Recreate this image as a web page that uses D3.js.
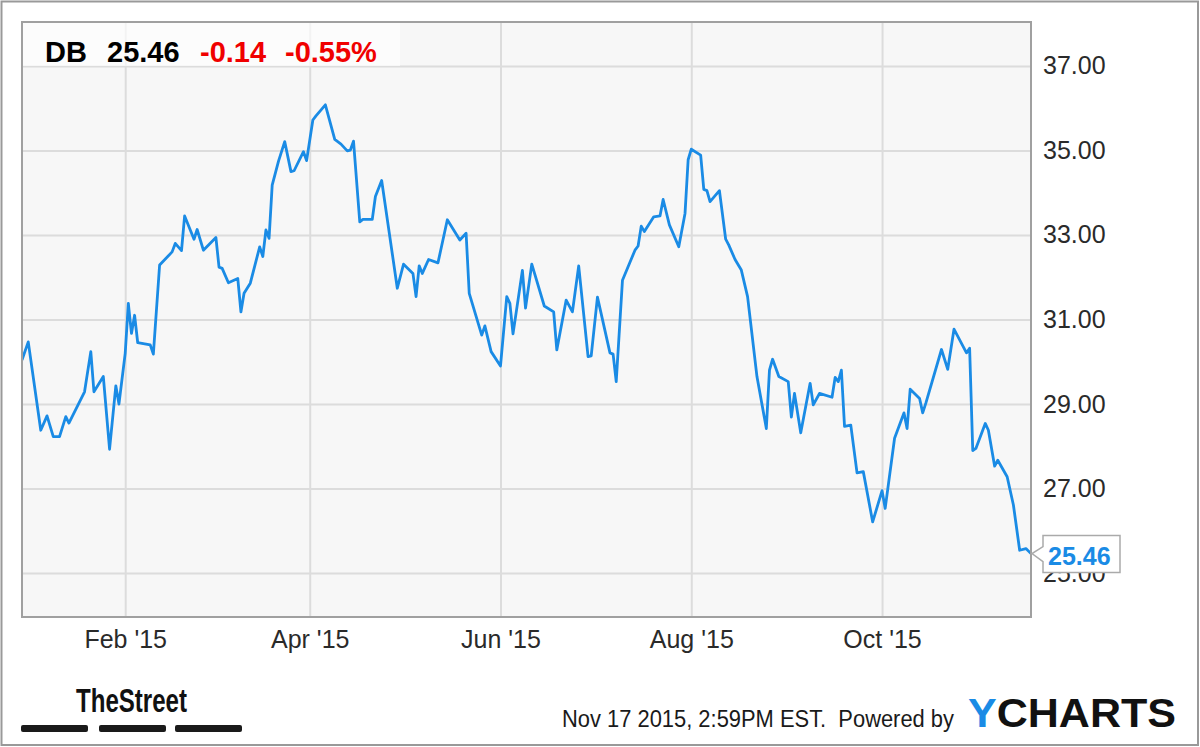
<!DOCTYPE html>
<html>
<head>
<meta charset="utf-8">
<title>DB price chart</title>
<script src="https://cdn.jsdelivr.net/npm/d3@7"></script>
<style>
  body { margin: 0; background: #fff; }
  #graph svg { display: block; font-family: "Liberation Sans", Arial, sans-serif; }
</style>
</head>
<body>
<div id="graph"></div>
<script>
const dates = [
  "2014-12-30", "2015-01-01", "2015-01-05", "2015-01-07", "2015-01-09", "2015-01-11",
  "2015-01-13", "2015-01-14", "2015-01-19", "2015-01-21", "2015-01-22", "2015-01-25",
  "2015-01-27", "2015-01-29", "2015-01-30", "2015-02-01", "2015-02-02", "2015-02-03",
  "2015-02-04", "2015-02-05", "2015-02-09", "2015-02-10", "2015-02-12", "2015-02-16",
  "2015-02-17", "2015-02-19", "2015-02-20", "2015-02-23", "2015-02-24", "2015-02-26",
  "2015-03-02", "2015-03-03", "2015-03-04", "2015-03-06", "2015-03-09", "2015-03-10",
  "2015-03-11", "2015-03-13", "2015-03-16", "2015-03-17", "2015-03-18", "2015-03-19",
  "2015-03-20", "2015-03-22", "2015-03-24", "2015-03-26", "2015-03-27", "2015-03-30",
  "2015-03-31", "2015-04-02", "2015-04-03", "2015-04-06", "2015-04-09", "2015-04-11",
  "2015-04-13", "2015-04-14", "2015-04-15", "2015-04-17", "2015-04-18", "2015-04-21",
  "2015-04-22", "2015-04-24", "2015-04-29", "2015-05-01", "2015-05-04", "2015-05-05",
  "2015-05-06", "2015-05-07", "2015-05-09", "2015-05-12", "2015-05-15", "2015-05-19",
  "2015-05-21", "2015-05-22", "2015-05-26", "2015-05-27", "2015-05-29", "2015-06-01",
  "2015-06-03", "2015-06-04", "2015-06-05", "2015-06-08", "2015-06-09", "2015-06-11",
  "2015-06-15", "2015-06-18", "2015-06-19", "2015-06-22", "2015-06-24", "2015-06-26",
  "2015-06-29", "2015-06-30", "2015-07-02", "2015-07-06", "2015-07-07", "2015-07-08",
  "2015-07-10", "2015-07-14", "2015-07-15", "2015-07-16", "2015-07-17", "2015-07-20",
  "2015-07-22", "2015-07-23", "2015-07-25", "2015-07-28", "2015-07-30", "2015-07-31",
  "2015-08-01", "2015-08-04", "2015-08-05", "2015-08-06", "2015-08-07", "2015-08-10",
  "2015-08-12", "2015-08-13", "2015-08-15", "2015-08-17", "2015-08-19", "2015-08-22",
  "2015-08-25", "2015-08-26", "2015-08-27", "2015-08-29", "2015-09-01", "2015-09-02",
  "2015-09-03", "2015-09-05", "2015-09-08", "2015-09-09", "2015-09-11", "2015-09-15",
  "2015-09-16", "2015-09-17", "2015-09-18", "2015-09-19", "2015-09-21", "2015-09-23",
  "2015-09-25", "2015-09-28", "2015-10-01", "2015-10-02", "2015-10-05", "2015-10-08",
  "2015-10-09", "2015-10-10", "2015-10-13", "2015-10-14", "2015-10-15", "2015-10-20",
  "2015-10-22", "2015-10-24", "2015-10-28", "2015-10-29", "2015-10-30", "2015-10-31",
  "2015-11-03", "2015-11-04", "2015-11-06", "2015-11-07", "2015-11-10", "2015-11-12",
  "2015-11-14", "2015-11-16", "2015-11-17 14:59"
];

const prices = [
  30.04, 30.47, 28.38, 28.72, 28.23, 28.23,
  28.70, 28.55, 29.29, 30.24, 29.29, 29.65,
  27.93, 29.43, 29.00, 30.20, 31.38, 30.67,
  31.10, 30.45, 30.40, 30.18, 32.29, 32.60,
  32.80, 32.63, 33.45, 32.90, 33.13, 32.64,
  32.94, 32.24, 32.21, 31.87, 31.97, 31.18,
  31.62, 31.86, 32.72, 32.49, 33.12, 32.92,
  34.18, 34.74, 35.21, 34.50, 34.52, 34.97,
  34.76, 35.72, 35.82, 36.08, 35.26, 35.15,
  34.99, 35.01, 35.22, 33.31, 33.37, 33.37,
  33.91, 34.29, 31.74, 32.31, 32.09, 31.54,
  32.27, 32.09, 32.42, 32.34, 33.36, 32.88,
  33.04, 31.62, 30.63, 30.85, 30.24, 29.90,
  31.54, 31.38, 30.66, 32.16, 31.27, 32.31,
  31.32, 31.18, 30.28, 31.46, 31.18, 32.27,
  30.12, 30.14, 31.53, 30.21, 30.18, 29.53,
  31.93, 32.64, 32.74, 33.21, 33.08, 33.43,
  33.45, 33.84, 33.24, 32.72, 33.51, 34.78,
  35.03, 34.89, 34.08, 34.05, 33.79, 34.05,
  32.90, 32.76, 32.42, 32.17, 31.54, 29.65,
  28.42, 29.80, 30.06, 29.65, 29.53, 28.69,
  29.25, 28.32, 29.49, 28.98, 29.25, 29.16,
  29.63, 29.53, 29.80, 28.47, 28.50, 27.37,
  27.40, 26.21, 26.95, 26.53, 28.19, 28.79,
  28.42, 29.35, 29.13, 28.79, 29.02, 30.29,
  29.82, 30.77, 30.21, 30.32, 27.90, 27.95,
  28.54, 28.38, 27.53, 27.67, 27.28, 26.61,
  25.54, 25.58, 25.46
];

const xTicks = ["2015-02-01", "2015-04-01", "2015-06-01", "2015-08-01", "2015-10-01"];
const yTicks = [25, 27, 29, 31, 33, 35, 37];
const yExtent = [23.96, 38.04];

const ticker = "DB";
const lastPrice = 25.46;
const change = -0.14;
const changePct = -0.55;
const stamp = "Nov 17 2015, 2:59PM EST.  Powered by";

const blue = "#1a8be5";
const red = "#f00000";

const parseDate = s => d3.timeParse(s.length > 10 ? "%Y-%m-%d %H:%M" : "%Y-%m-%d")(s);

const drawGraph = (width, height) => {
  const svg = d3.select("#graph")
                .append("svg")
                .attr("width", width)
                .attr("height", height);

  const plot = { left: 22, top: 22, right: 1031, bottom: 617 };
  const plotW = plot.right - plot.left;
  const plotH = plot.bottom - plot.top;

  const series = dates.map((d, i) => ({ date: parseDate(d), price: prices[i] }));

  const xScale = d3.scaleTime()
                   .domain(d3.extent(series, d => d.date))
                   .range([plot.left, plot.right]);

  const yScale = d3.scaleLinear()
                   .domain(yExtent)
                   .range([plot.bottom, plot.top]);

  // outer frame
  svg.append("rect")
     .attr("x", 1.5).attr("y", 1.5)
     .attr("width", 1196.5).attr("height", 743.5)
     .attr("fill", "#fff")
     .attr("stroke", "#999")
     .attr("stroke-width", 2);

  svg.append("rect")
     .attr("x", plot.left).attr("y", plot.top)
     .attr("width", plotW).attr("height", plotH)
     .attr("fill", "#f7f7f7");

  // grid
  svg.append("g")
     .attr("transform", `translate(0, ${plot.bottom})`)
     .call(d3.axisBottom(xScale).tickValues(xTicks.map(parseDate)).tickSize(-plotH).tickFormat(""))
     .call(g => g.select(".domain").remove())
     .call(g => g.selectAll("line").attr("stroke", "#dcdcdc").attr("stroke-width", 2));

  svg.append("g")
     .attr("transform", `translate(${plot.left}, 0)`)
     .call(d3.axisLeft(yScale).tickValues(yTicks).tickSize(-plotW).tickFormat(""))
     .call(g => g.select(".domain").remove())
     .call(g => g.selectAll("line").attr("stroke", "#dcdcdc").attr("stroke-width", 2));

  // header box
  svg.append("rect")
     .attr("x", plot.left).attr("y", plot.top)
     .attr("width", 378).attr("height", 44)
     .attr("fill", "#fff")
     .attr("opacity", 0.65);

  svg.append("defs")
     .append("clipPath")
     .attr("id", "clip")
     .append("rect")
     .attr("x", plot.left).attr("y", plot.top)
     .attr("width", plotW).attr("height", plotH);

  const line = d3.line()
                 .x(d => xScale(d.date))
                 .y(d => yScale(d.price));

  svg.append("path")
     .datum(series)
     .attr("clip-path", "url(#clip)")
     .attr("d", line)
     .attr("fill", "none")
     .attr("stroke", blue)
     .attr("stroke-width", 2.8)
     .attr("stroke-linejoin", "round");

  svg.append("rect")
     .attr("x", plot.left).attr("y", plot.top)
     .attr("width", plotW).attr("height", plotH)
     .attr("fill", "none")
     .attr("stroke", "#a0a0a0")
     .attr("stroke-width", 2);

  // axes labels
  const xAxis = d3.axisBottom(xScale)
                  .tickValues(xTicks.map(parseDate))
                  .tickFormat(d3.timeFormat("%b '%y"))
                  .tickSize(0)
                  .tickPadding(13);

  svg.append("g")
     .attr("id", "x-axis")
     .attr("transform", `translate(0, ${plot.bottom})`)
     .call(xAxis)
     .call(g => g.select(".domain").remove())
     .call(g => g.selectAll("text")
                 .attr("fill", "#2a2a2a")
                 .style("font-size", "25px")
                 .style("font-family", "'Liberation Sans', Arial, sans-serif"));

  const yAxis = d3.axisRight(yScale)
                  .tickValues(yTicks)
                  .tickFormat(d3.format(".2f"))
                  .tickSize(0)
                  .tickPadding(12);

  svg.append("g")
     .attr("id", "y-axis")
     .attr("transform", `translate(${plot.right}, 0)`)
     .call(yAxis)
     .call(g => g.select(".domain").remove())
     .call(g => g.selectAll("text")
                 .attr("fill", "#2a2a2a")
                 .style("font-size", "25px")
                 .style("font-family", "'Liberation Sans', Arial, sans-serif"));

  // last price callout (sits over the 25.00 label, as in the source)
  const ly = yScale(lastPrice);
  const bx = plot.right + 12;
  svg.append("path")
     .attr("d", `M${bx},${ly - 18} L${bx + 77},${ly - 18} L${bx + 77},${ly + 19} L${bx},${ly + 19}
                 L${bx},${ly + 8} L${plot.right + 1},${ly} L${bx},${ly - 7} Z`)
     .attr("fill", "#fff")
     .attr("stroke", "#aaa")
     .attr("stroke-width", 1.5);

  svg.append("text")
     .attr("x", bx + 5)
     .attr("y", ly + 11)
     .attr("fill", blue)
     .style("font-size", "25px")
     .style("font-weight", "bold")
     .text(d3.format(".2f")(lastPrice));

  // header
  const header = [
    { t: ticker, x: 45, c: "#000" },
    { t: d3.format(".2f")(lastPrice), x: 107, c: "#000" },
    { t: d3.format(".2f")(change), x: 200, c: red },
    { t: d3.format(".2f")(changePct) + "%", x: 285, c: red }
  ];
  svg.selectAll(".hdr")
     .data(header)
     .enter()
     .append("text")
     .attr("class", "hdr")
     .attr("x", d => d.x)
     .attr("y", 62)
     .attr("fill", d => d.c)
     .style("font-size", "29px")
     .style("font-weight", "bold")
     .text(d => d.t.replace("\u2212", "-"));

  // TheStreet mark
  svg.append("text")
     .attr("x", 76)
     .attr("y", 712)
     .attr("textLength", 111)
     .attr("lengthAdjust", "spacingAndGlyphs")
     .attr("fill", "#111")
     .style("font-family", "'Liberation Sans Narrow', 'Liberation Sans', sans-serif")
     .style("font-size", "33px")
     .style("font-weight", "bold")
     .text("TheStreet");

  svg.selectAll(".bar")
     .data([21, 99, 175])
     .enter()
     .append("rect")
     .attr("class", "bar")
     .attr("x", d => d)
     .attr("y", 725)
     .attr("width", 67)
     .attr("height", 7)
     .attr("rx", 2)
     .attr("fill", "#1a1a1a");

  // footer
  svg.append("text")
     .attr("x", 562)
     .attr("y", 727)
     .attr("textLength", 392)
     .attr("lengthAdjust", "spacingAndGlyphs")
     .attr("fill", "#1a1a1a")
     .style("font-size", "23px")
     .style("white-space", "pre")
     .text(stamp);

  const yc = svg.append("text")
                .attr("x", 968)
                .attr("y", 727)
                .attr("textLength", 208)
                .attr("lengthAdjust", "spacingAndGlyphs")
                .style("font-size", "40px")
                .style("font-weight", "bold");
  yc.append("tspan").attr("fill", blue).text("Y");
  yc.append("tspan").attr("fill", "#111").text("CHARTS");
};

drawGraph(1200, 747);
</script>
</body>
</html>
